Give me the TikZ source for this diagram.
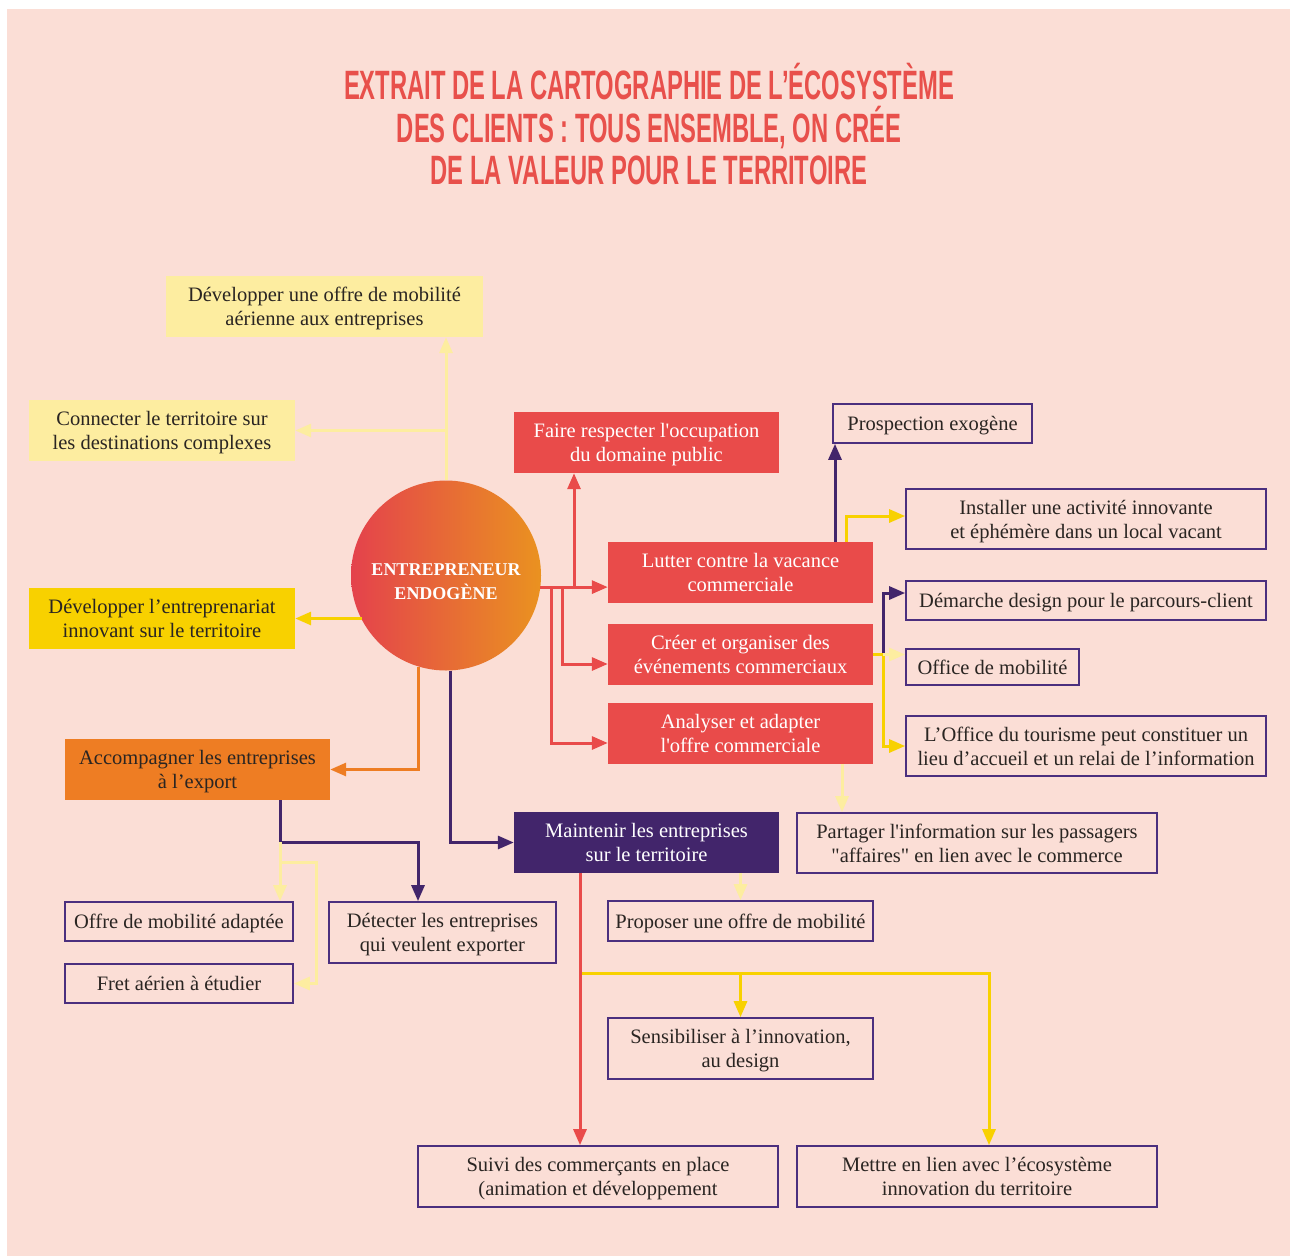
\documentclass[tikz,border=0pt]{standalone}
\usepackage{fontspec}
\setmainfont{Liberation Serif}
\newfontfamily\titlefont[FakeStretch=0.58]{Liberation Sans}
\usetikzlibrary{arrows.meta}
\definecolor{cBg}{HTML}{FBDED6}
\definecolor{cRed}{HTML}{E94B4A}
\definecolor{cTitle}{HTML}{E8504B}
\definecolor{cOrange}{HTML}{EE7D23}
\definecolor{cYellow}{HTML}{F8D100}
\definecolor{cLYellow}{HTML}{FDEDA0}
\definecolor{cPurple}{HTML}{42256B}
\definecolor{cBox}{HTML}{4B2F7E}
\definecolor{cText}{HTML}{2A2522}
\definecolor{cCircL}{HTML}{E4424C}
\definecolor{cCircR}{HTML}{EA9220}
\begin{document}
\begin{tikzpicture}[x=1pt,y=-1pt,
  base/.style={rectangle, inner sep=0pt, align=center, text depth=0pt, font=\fontsize{20.5}{24}\selectfont, text=cText},
  box/.style={base, draw=cBox, line width=1.7pt, fill=cBg},
  redbox/.style={base, fill=cRed, text=white},
  purplebox/.style={base, fill=cPurple, text=white},
  orangebox/.style={base, fill=cOrange},
  yellowbox/.style={base, fill=cYellow},
  lyellowbox/.style={base, fill=cLYellow},
  conn/.style={line width=3pt, -{Triangle[length=16pt,width=13pt]}},
  cR/.style={conn, draw=cRed},
  cP/.style={conn, draw=cPurple},
  cY/.style={conn, draw=cYellow},
  cLY/.style={conn, draw=cLYellow},
  cO/.style={conn, draw=cOrange}
]
\useasboundingbox (0,0) rectangle (1290,1256);
\fill[white] (0,0) rectangle (1290,1256);
\fill[cBg] (7,9) rectangle (1290,1256);

% title
\node[text=cTitle, align=center, font=\titlefont\bfseries\fontsize{41}{42.5}\selectfont] (title) at (649,124.5)
  {EXTRAIT DE LA CARTOGRAPHIE DE L’ÉCOSYSTÈME\\DES CLIENTS : TOUS ENSEMBLE, ON CRÉE\\DE LA VALEUR POUR LE TERRITOIRE};

% nodes
\node[lyellowbox, minimum width=317pt, minimum height=61pt] (n1) at (324.5,306.5) {Développer une offre de mobilité\\aérienne aux entreprises};
\node[lyellowbox, minimum width=266pt, minimum height=61pt] (n2) at (162,430.5) {Connecter le territoire sur\\les destinations complexes};
\node[yellowbox, minimum width=266pt, minimum height=61pt] (n4) at (162,618.5) {Développer l’entreprenariat\\innovant sur le territoire};
\node[redbox, minimum width=265pt, minimum height=61pt] (n5) at (646.5,442.5) {Faire respecter l\textquotesingle occupation\\du domaine public};
\node[box, minimum width=199pt, minimum height=39pt] (n6) at (932.5,423.5) {Prospection exogène};
\node[box, minimum width=360pt, minimum height=60pt] (n7) at (1086,519) {Installer une activité innovante\\et éphémère dans un local vacant};
\node[redbox, minimum width=265pt, minimum height=61pt] (n8) at (740.5,572.5) {Lutter contre la vacance\\commerciale};
\node[box, minimum width=360pt, minimum height=39pt] (n9) at (1086,600.5) {Démarche design pour le parcours-client};
\node[redbox, minimum width=265pt, minimum height=61pt] (n10) at (740.5,654.5) {Créer et organiser des\\événements commerciaux};
\node[box, minimum width=173pt, minimum height=36pt] (n11) at (992.5,667) {Office de mobilité};
\node[redbox, minimum width=265pt, minimum height=61pt] (n12) at (740.5,733.5) {Analyser et adapter\\l\textquotesingle offre commerciale};
\node[box, minimum width=360pt, minimum height=60pt] (n13) at (1086,746) {L’Office du tourisme peut constituer un\\lieu d’accueil et un relai de l’information};
\node[orangebox, minimum width=265pt, minimum height=61pt] (n14) at (197.5,769.5) {Accompagner les entreprises\\à l’export};
\node[purplebox, minimum width=265pt, minimum height=61pt] (n15) at (646.5,842.5) {Maintenir les entreprises\\sur le territoire};
\node[box, minimum width=360pt, minimum height=60pt] (n16) at (977,843) {Partager l\textquotesingle information sur les passagers\\\textquotedbl affaires\textquotedbl{} en lien avec le commerce};
\node[box, minimum width=228pt, minimum height=39pt] (n17) at (179,921.5) {Offre de mobilité adaptée};
\node[box, minimum width=227pt, minimum height=61pt] (n18) at (442.5,932.5) {Détecter les entreprises\\qui veulent exporter};
\node[box, minimum width=265pt, minimum height=40pt] (n19) at (740.5,921) {Proposer une offre de mobilité};
\node[box, minimum width=228pt, minimum height=39pt] (n20) at (179,983.5) {Fret aérien à étudier};
\node[box, minimum width=265pt, minimum height=61pt] (n21) at (740.5,1048.5) {Sensibiliser à l’innovation,\\au design};
\node[box, minimum width=360pt, minimum height=61pt] (n22) at (598,1176.5) {Suivi des commerçants en place\\(animation et développement};
\node[box, minimum width=360pt, minimum height=61pt] (n23) at (977,1176.5) {Mettre en lien avec l’écosystème\\innovation du territoire};

% circle
\node[circle, minimum size=190pt, inner sep=0pt, left color=cCircL, right color=cCircR,
  label={[text=white, align=center, yshift=-6pt, font=\bfseries\fontsize{18}{24}\selectfont]center:ENTREPRENEUR\\ENDOGÈNE}] (circ) at (446,575.5) {};

% light yellow from circle top
\draw[cLY] (circ.north) -- (circ.north |- n1.south);
\draw[cLY] (circ.north |- n2.east) -- (n2.east);
% yellow to n4
\draw[cY] (n4.east -| circ.208) -- (n4.east);

% red branches
\draw[cR] (circ.353) -- (circ.353 -| n8.west);
\coordinate (r1) at (574,587);
\coordinate (r2) at (562,587);
\coordinate (r3) at (551.5,587);
\draw[cR] (r1) -- (r1 |- n5.south);
\draw[cR] (r2) |- ([yshift=-9.5pt]n10.west);
\draw[cR] (r3) |- ([yshift=-9.5pt]n12.west);

% from n8
\draw[cP] ([xshift=94.5pt]n8.north) -- ([xshift=94.5pt]n8.north |- n6.south);
\draw[cY] ([xshift=106pt]n8.north) |- ([yshift=3pt]n7.west);

% from n10
\draw[cP] ([xshift=10pt]n10.east) |- ([yshift=7.5pt]n9.west);
\draw[cY] (n10.east) -- ([xshift=10pt]n10.east) |- (n13.west);
\draw[cLY] ([xshift=10pt]n10.east) -- (n11.west |- n10.east);

% from n12
\draw[cLY] ([xshift=101.5pt]n12.south) -- ([xshift=101.5pt]n12.south |- n16.north);

% orange to n14, purple to n15
\draw[cO] (circ.253) |- (n14.east);
\draw[cP] (circ.273.6) |- (n15.west);

% from n14
\coordinate (jE) at ([xshift=82.5pt,yshift=-42pt]n14.south);
\draw[cP] ([xshift=82.5pt]n14.south) -- (jE) -| ([xshift=-24.5pt]n18.north);
\draw[cLY] (jE) -- (jE |- n17.north);
\draw[cLY] ([yshift=-20pt]jE) -- ++(36,0) |- (n20.east);

% from n15
\draw[cLY] ([xshift=94pt]n15.south) -- (n19.north);
\coordinate (jY) at ([xshift=-66.5pt,yshift=-100pt]n15.south);
\draw[cY] (jY) -| ([xshift=12pt]n23.north);
\draw[cY] (jY -| n21.north) -- (n21.north);
\draw[cR] ([xshift=-66.5pt]n15.south) -- ([xshift=-18pt]n22.north);
\end{tikzpicture}
\end{document}
